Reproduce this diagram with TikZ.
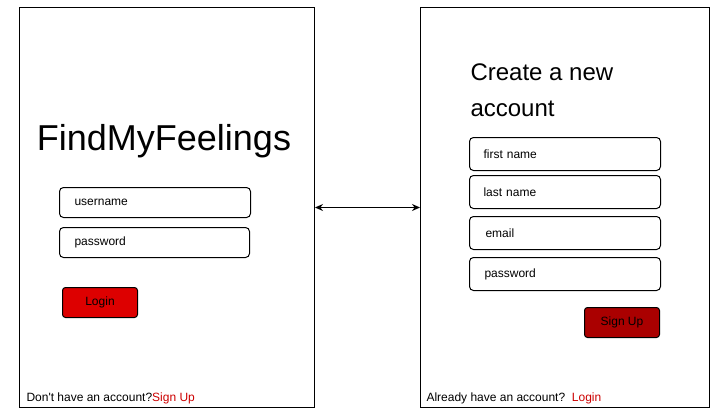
\documentclass[tikz,border=0pt]{standalone}
\usepackage{fontspec}
\setmainfont{Liberation Sans}
\usetikzlibrary{arrows.meta}
\definecolor{loginred}{RGB}{221,0,0}
\definecolor{signupred}{RGB}{170,0,0}
\definecolor{linkred}{RGB}{204,0,0}
\begin{document}
\begin{tikzpicture}[x=1pt,y=-1pt,line width=1pt]
	\useasboundingbox (0,0) rectangle (728,418);
	\begin{scope}[every node/.style={font=\fontsize{12}{14}\selectfont,anchor=north west,inner sep=0pt}]
		\tikzstyle{screen}=[draw,minimum height=400pt];
		\tikzstyle{field}=[draw,rounded corners=4pt,align=left,inner xsep=15pt,text width=161pt,minimum height=30pt];
		\tikzstyle{button}=[draw,rounded corners=3pt,minimum width=75pt,minimum height=30pt];
		\path (19,7)   node (login)  [screen,minimum width=295pt] {};
		\path (420,7)  node (signup) [screen,minimum width=289pt] {};
		\path (164,150) node (title)   [anchor=base,font=\fontsize{36}{43}\selectfont] {FindMyFeelings};
		\path (59,187)  node (user)    [field] {username};
		\path (59,227)  node (pass)    [field,text width=160pt] {password};
		\path (62,287)  node (loginbtn) [button,fill=loginred] {Login};
		\path (26,401)  node (noacc)   [anchor=base west] {Don\textquotesingle t have an account?\textcolor{linkred}{Sign Up}};
		\path (470,116) node (heading) [anchor=base west,align=left,font=\fontsize{24}{36}\selectfont] {Create a new\\account};
		\path (469,137) node (first)   [field,minimum height=33pt,inner xsep=14pt,text width=163pt] {first name};
		\path (469,175) node (last)    [field,minimum height=33pt,inner xsep=14pt,text width=163pt] {last name};
		\path (469,216) node (email)   [field,minimum height=33pt,inner xsep=16pt,text width=159pt] {email};
		\path (469,257) node (newpass) [field,minimum height=33pt] {password};
		\path (584,307) node (signupbtn) [button,fill=signupred] {Sign Up};
		\path (426,401) node (hasacc)  [anchor=base west] {Already have an account?~~\textcolor{linkred}{Login}};
		\draw[{Stealth[length=8pt,width=7pt]}-{Stealth[length=8pt,width=7pt]}] (login.east) -- (signup.west);
	\end{scope}
\end{tikzpicture}
\end{document}
